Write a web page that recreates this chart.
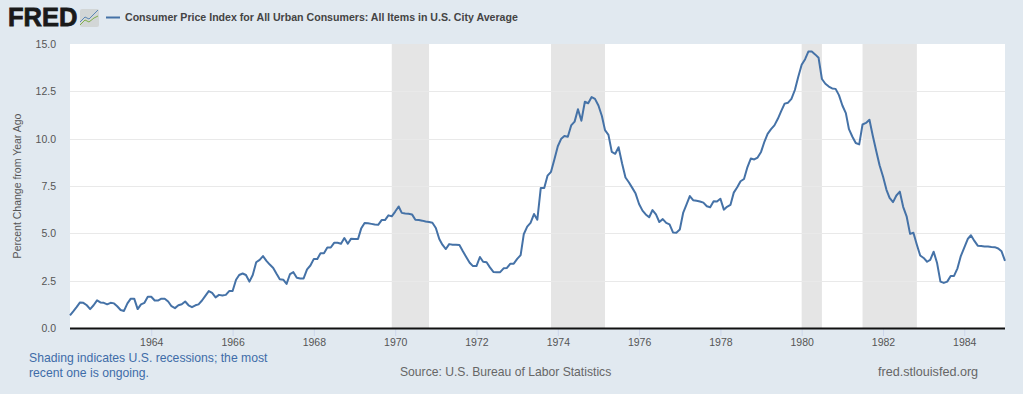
<!DOCTYPE html>
<html>
<head>
<meta charset="utf-8">
<title>Consumer Price Index for All Urban Consumers</title>
<script src="https://cdn.jsdelivr.net/npm/d3@7"></script>
<style>
  html, body { margin: 0; padding: 0; background: #e1e9f0; overflow: hidden; }
  svg { display: block; font-family: "Liberation Sans", Arial, sans-serif; }
</style>
</head>
<body>
<script>
// prettier-ignore
const values1960s = [
  0.67, 0.89, 1.1, 1.35, 1.33, 1.2, 1.0, 1.2, 1.46, 1.35, 1.33, 1.25,
  1.33, 1.3, 1.15, 0.95, 0.9, 1.3, 1.55, 1.55, 1.0, 1.25, 1.33, 1.65,
  1.65, 1.45, 1.45, 1.55, 1.55, 1.4, 1.15, 1.05, 1.2, 1.25, 1.4, 1.2,
  1.1, 1.2, 1.25, 1.45, 1.7, 1.95, 1.85, 1.62, 1.75, 1.72, 1.75, 1.95,
  1.95, 2.55, 2.8, 2.88, 2.8, 2.45, 2.8, 3.47, 3.6, 3.8, 3.55, 3.35,
  3.17, 2.85, 2.58, 2.55, 2.33, 2.85, 2.95, 2.65, 2.62, 2.62, 3.1, 3.3,
  3.65, 3.65, 3.95, 3.95, 4.25, 4.25, 4.5, 4.5, 4.45, 4.75, 4.45, 4.72,
  4.7, 4.7, 5.25, 5.55, 5.53, 5.5, 5.47, 5.45, 5.7, 5.7, 5.95, 5.9,
];
// prettier-ignore
const values1970s = [
  6.15, 6.42, 6.08, 6.05, 6.03, 6.0, 5.72, 5.7, 5.67, 5.63, 5.6, 5.56,
  5.28, 4.7, 4.4, 4.17, 4.43, 4.4, 4.4, 4.38, 4.05, 3.75, 3.45, 3.27,
  3.27, 3.75, 3.5, 3.47, 3.2, 2.96, 2.95, 2.95, 3.15, 3.17, 3.4, 3.4,
  3.65, 3.85, 4.95, 5.35, 5.55, 6.02, 5.72, 7.4, 7.4, 8.05, 8.25, 8.9,
  9.6, 10.0, 10.14, 10.1, 10.7, 10.9, 11.55, 10.95, 11.95, 11.87, 12.2, 12.1,
  11.75, 11.2, 10.45, 10.2, 9.3, 9.2, 9.55, 8.7, 7.95, 7.7, 7.4, 7.1,
  6.55, 6.2, 6.0, 5.85, 6.23, 6.0, 5.6, 5.75, 5.55, 5.47, 5.05, 5.03,
  5.2, 6.1, 6.5, 6.97, 6.75, 6.72, 6.68, 6.62, 6.43, 6.38, 6.7, 6.68,
  6.83, 6.25, 6.4, 6.5, 7.15, 7.43, 7.75, 7.87, 8.5, 8.95, 8.9, 9.0,
  9.3, 9.85, 10.25, 10.5, 10.7, 11.05, 11.45, 11.85, 11.9, 12.1, 12.57, 13.26,
];
// prettier-ignore
const values1980s = [
  13.9, 14.2, 14.6, 14.6, 14.45, 14.27, 13.15, 12.9, 12.75, 12.65, 12.63, 12.3,
  11.75, 11.35, 10.5, 10.1, 9.77, 9.7, 10.75, 10.83, 11.0, 10.15, 9.35, 8.6,
  8.0, 7.3, 6.87, 6.65, 7.0, 7.2, 6.4, 5.9, 4.97, 5.03, 4.4, 3.83,
  3.7, 3.5, 3.6, 4.03, 3.45, 2.45, 2.38, 2.45, 2.75, 2.75, 3.15, 3.8,
  4.25, 4.7, 4.9, 4.6, 4.35, 4.33, 4.31, 4.3, 4.28, 4.27, 4.2, 4.05,
  3.55,
];
const values = [...values1960s, ...values1970s, ...values1980s];

const recessionStarts = ["1969-12-01", "1973-11-01", "1980-01-01", "1981-07-01"];
const recessionEnds = ["1970-11-01", "1975-03-01", "1980-07-01", "1982-11-01"];
const yearTicks = [1964, 1966, 1968, 1970, 1972, 1974, 1976, 1978, 1980, 1982, 1984];
const valueTicks = [0, 2.5, 5, 7.5, 10, 12.5, 15];

const titleText = "Consumer Price Index for All Urban Consumers: All Items in U.S. City Average";
const yAxisText = "Percent Change from Year Ago";
const shadingLines = ["Shading indicates U.S. recessions; the most", "recent one is ongoing."];
const sourceText = "Source: U.S. Bureau of Labor Statistics";
const siteText = "fred.stlouisfed.org";

const width = 1023;
const height = 394;
const margin = { top: 44, right: 18, bottom: 66, left: 70 };
const lineColor = "#4572a7";

const parseDate = d3.timeParse("%Y-%m-%d");
const start = new Date(1962, 0, 1);
const dates = values.map((_, i) => d3.timeMonth.offset(start, i));

const xScale = d3
  .scaleTime()
  .domain([start, new Date(1985, 0, 1)])
  .range([margin.left, width - margin.right]);

const yScale = d3
  .scaleLinear()
  .domain([0, 15])
  .range([height - margin.bottom, margin.top]);

const svg = d3
  .select("body")
  .append("svg")
  .attr("width", width)
  .attr("height", height)
  .attr("viewBox", `0 0 ${width} ${height}`);

// plot background
svg
  .append("rect")
  .attr("x", margin.left)
  .attr("y", margin.top)
  .attr("width", width - margin.left - margin.right)
  .attr("height", height - margin.top - margin.bottom)
  .attr("fill", "#fff");

// recessions
svg
  .append("g")
  .selectAll("rect")
  .data(recessionStarts)
  .enter()
  .append("rect")
  .attr("x", (d) => xScale(parseDate(d)))
  .attr("y", margin.top)
  .attr("width", (d, i) => xScale(parseDate(recessionEnds[i])) - xScale(parseDate(d)))
  .attr("height", height - margin.top - margin.bottom)
  .attr("fill", "#e5e5e5");

// grid
svg
  .append("g")
  .selectAll("line")
  .data(valueTicks.filter((d) => d > 0 && d < 15))
  .enter()
  .append("line")
  .attr("x1", margin.left)
  .attr("x2", width - margin.right)
  .attr("y1", (d) => Math.round(yScale(d)) + 0.5)
  .attr("y2", (d) => Math.round(yScale(d)) + 0.5)
  .attr("stroke", "#e9e9e9");

const xAxis = d3
  .axisBottom(xScale)
  .tickValues(yearTicks.map((y) => new Date(y, 0, 1)))
  .tickFormat(d3.timeFormat("%Y"))
  .tickSize(8)
  .tickPadding(2.5);

const yAxis = d3
  .axisLeft(yScale)
  .tickValues(valueTicks)
  .tickFormat(d3.format(".1f"))
  .tickSize(0)
  .tickPadding(14);

const groupXAxis = svg
  .append("g")
  .attr("transform", `translate(0 ${height - margin.bottom})`)
  .call(xAxis);

groupXAxis.select(".domain").remove();
groupXAxis.selectAll("line").attr("stroke", "#ccd6eb");

const groupYAxis = svg
  .append("g")
  .attr("transform", `translate(${margin.left} 0)`)
  .call(yAxis);

groupYAxis.select(".domain").remove();

svg
  .selectAll(".tick text")
  .attr("font-family", '"Liberation Sans", Arial, sans-serif')
  .attr("font-size", 10.5)
  .attr("fill", "#555");

// series
const line = d3
  .line()
  .x((_, i) => xScale(dates[i]))
  .y((d) => yScale(d));

svg
  .append("path")
  .datum(values)
  .attr("d", line)
  .attr("fill", "none")
  .attr("stroke", lineColor)
  .attr("stroke-width", 2)
  .attr("stroke-linejoin", "round");

// baseline sits on top of the shading
svg
  .append("line")
  .attr("x1", margin.left)
  .attr("x2", width - margin.right)
  .attr("y1", height - margin.bottom + 0.5)
  .attr("y2", height - margin.bottom + 0.5)
  .attr("stroke", "#111")
  .attr("stroke-width", 2);

svg
  .append("text")
  .attr("transform", "translate(20.5 186) rotate(-90)")
  .attr("text-anchor", "middle")
  .attr("font-size", 10.5)
  .attr("fill", "#555")
  .text(yAxisText);

// header
svg
  .append("text")
  .attr("x", 8)
  .attr("y", 26)
  .attr("font-size", 25.5)
  .attr("font-weight", 700)
  .attr("stroke", "#1a1a1a")
  .attr("stroke-width", 0.8)
  .attr("fill", "#1a1a1a")
  .text("FRED");

const logo = svg.append("g").attr("transform", "translate(80 9)");
logo.append("rect").attr("width", 19).attr("height", 18).attr("rx", 2).attr("fill", "#d2d6d6");
logo
  .append("polyline")
  .attr("points", "0,13 5,8 9,10 14,5 18,1")
  .attr("fill", "none")
  .attr("stroke", "#5a86b5")
  .attr("stroke-width", 1);
logo
  .append("polyline")
  .attr("points", "0,16 5,11 9,13 14,9 18,7")
  .attr("fill", "none")
  .attr("stroke", "#7fae4a")
  .attr("stroke-width", 1);

svg
  .append("line")
  .attr("x1", 106)
  .attr("x2", 120)
  .attr("y1", 17.5)
  .attr("y2", 17.5)
  .attr("stroke", lineColor)
  .attr("stroke-width", 2);

svg
  .append("text")
  .attr("x", 125)
  .attr("y", 21)
  .attr("font-size", 10.6)
  .attr("font-weight", 700)
  .attr("fill", "#444")
  .text(titleText);

// footer
svg
  .selectAll("text.shading")
  .data(shadingLines)
  .enter()
  .append("text")
  .attr("class", "shading")
  .attr("x", 29)
  .attr("y", (_, i) => 362 + i * 15)
  .attr("font-size", 12.2)
  .attr("fill", "#3e6ca8")
  .text((d) => d);

svg
  .append("text")
  .attr("x", 400)
  .attr("y", 376)
  .attr("font-size", 12.15)
  .attr("fill", "#666")
  .text(sourceText);

svg
  .append("text")
  .attr("x", 878)
  .attr("y", 376)
  .attr("font-size", 12.6)
  .attr("fill", "#666")
  .text(siteText);
</script>
</body>
</html>
